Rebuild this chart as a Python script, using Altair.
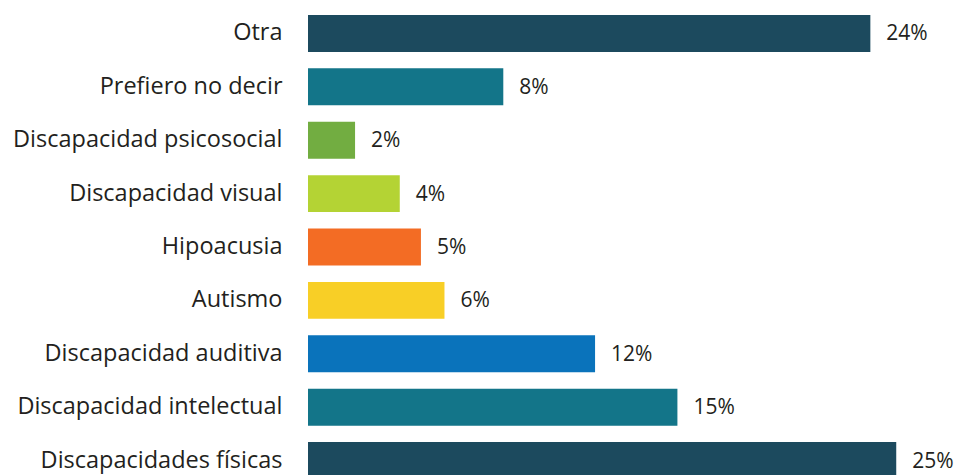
import altair as alt
import pandas as pd

categories = [
    "Otra",
    "Prefiero no decir",
    "Discapacidad psicosocial",
    "Discapacidad visual",
    "Hipoacusia",
    "Autismo",
    "Discapacidad auditiva",
    "Discapacidad intelectual",
    "Discapacidades físicas",
]
values = [23.9, 8.3, 2.0, 3.9, 4.8, 5.8, 12.2, 15.7, 25.0]
labels = ["24%", "8%", "2%", "4%", "5%", "6%", "12%", "15%", "25%"]
colors = ["#1c4a5e", "#137589", "#72ad41", "#b4d334", "#f36c24",
          "#f8cf26", "#0a73bb", "#137589", "#1c4a5e"]

df = pd.DataFrame({"cat": categories, "val": values, "label": labels, "color": colors})

FONT = "Open Sans"

y = alt.Y("cat:N", sort=categories, title=None,
          scale=alt.Scale(paddingInner=0.307, paddingOuter=0.131),
          axis=alt.Axis(domain=False, ticks=False, labelPadding=26,
                        labelFont=FONT, labelFontSize=23.5, labelColor="#231f20",
                        labelLimit=400))
x = alt.X("val:Q", title=None, axis=None, scale=alt.Scale(domain=[0, 27.2], nice=False, zero=True))

base = alt.Chart(df)
bars = base.mark_bar().encode(x=x, y=y, color=alt.Color("color:N", scale=None))
text = base.mark_text(align="left", baseline="middle", dx=16, dy=1,
                      font=FONT, fontSize=21, color="#231f20").encode(x=x, y=y, text="label:N")

chart = (bars + text).properties(
    width=640, height=478,
    autosize=alt.AutoSizeParams(type="none"),
    padding={"left": 300, "top": 0, "right": 6, "bottom": 0},
).configure_view(stroke=None)

chart.save("out.html", embed_options={"renderer": "svg", "actions": False})
